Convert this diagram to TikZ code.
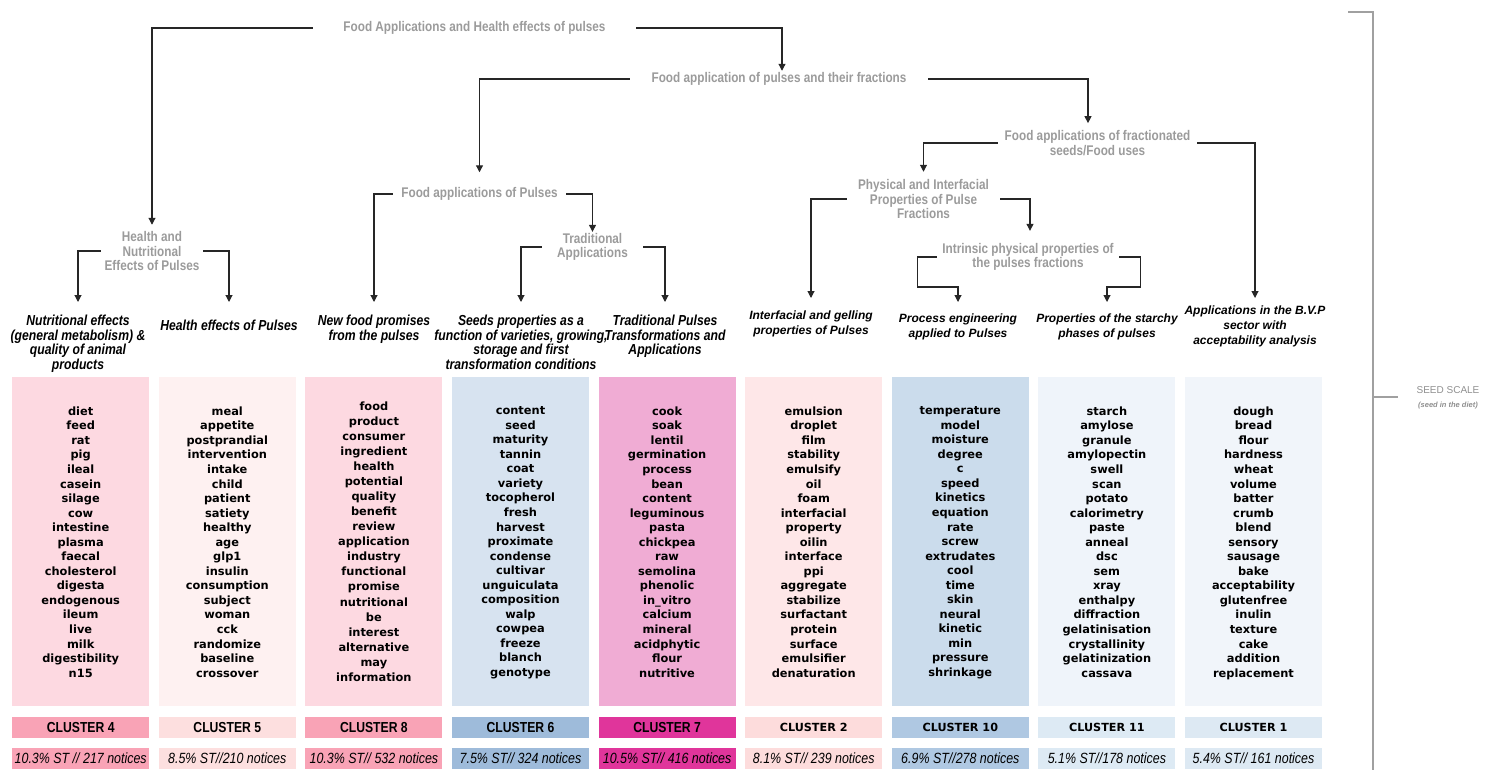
\documentclass[tikz,border=0pt]{standalone}
\usepackage{fontspec}
\setmainfont{Liberation Sans}
\newfontfamily\narrowfont[FakeStretch=0.84]{Liberation Sans}
\newfontfamily\wordfont{DejaVu Sans}
\usetikzlibrary{arrows.meta}
\definecolor{headgray}{HTML}{9B9B9B}
\definecolor{seedgray}{HTML}{8F8F8F}
\definecolor{scalegray}{HTML}{A0A0A0}
\definecolor{boxfour}{HTML}{FDD9E1}
\definecolor{labfour}{HTML}{F9A3B6}
\definecolor{boxfive}{HTML}{FEF1F1}
\definecolor{labfive}{HTML}{FDDFDF}
\definecolor{boxeight}{HTML}{FDD9E1}
\definecolor{labeight}{HTML}{F9A3B6}
\definecolor{boxsix}{HTML}{D7E3F0}
\definecolor{labsix}{HTML}{9EBBDA}
\definecolor{boxseven}{HTML}{F0ACD4}
\definecolor{labseven}{HTML}{E0359B}
\definecolor{boxtwo}{HTML}{FEE7E8}
\definecolor{labtwo}{HTML}{FDDCDC}
\definecolor{boxten}{HTML}{CBDCEC}
\definecolor{labten}{HTML}{AFC8E2}
\definecolor{boxeleven}{HTML}{EFF4FA}
\definecolor{labeleven}{HTML}{DDEAF4}
\definecolor{boxone}{HTML}{F1F5FA}
\definecolor{labone}{HTML}{DDE9F3}
\tikzset{
 conn/.style={draw=black!85, line width=1.1pt, -{Triangle[width=7pt,length=7pt]}},
 head/.style={font=\narrowfont\bfseries\fontsize{14}{14.5}\selectfont, text=headgray, align=center, inner xsep=0pt},
 subn/.style={font=\narrowfont\bfseries\itshape\fontsize{14.5}{14.7}\selectfont, align=center, anchor=north, inner xsep=0pt},
 subw/.style={font=\bfseries\itshape\fontsize{12}{15}\selectfont, align=center, anchor=north, inner xsep=0pt},
 colbox/.style={draw=none, anchor=north west, minimum width=137pt, minimum height=329pt, inner sep=0pt},
 words/.style={font=\wordfont\bfseries\fontsize{11.4}{14.55}\selectfont, align=center, text=black, anchor=north, inner sep=0pt},
 labbox/.style={anchor=north west, minimum width=137pt, minimum height=21pt, inner sep=0pt, font=\narrowfont\bfseries\fontsize{14.5}{15}\selectfont},
 labboxw/.style={labbox, font=\wordfont\bfseries\fontsize{11.2}{13}\selectfont},
 statbox/.style={anchor=north west, minimum width=137pt, minimum height=21pt, inner sep=0pt, font=\narrowfont\itshape\fontsize{14.8}{15}\selectfont},
 scaleline/.style={draw=scalegray, line width=2.2pt},
}
\newcommand{\ccol}[9]{%
 \node[colbox, fill=#3] (box#1) at (#2,377) {};
 \node[words, #8] (w#1) at ([yshift=-29.4pt]box#1.north) {#9};
 \node[#5, fill=#4] (lab#1) at (#2,717) {#6};
 \node[statbox, fill=#4] (stat#1) at (#2,748) {#7};
}
\begin{document}
\begin{tikzpicture}[x=1pt, y=-1pt]
\useasboundingbox (0,0) rectangle (1491,770);

% headings
\node[head, minimum width=323pt, inner ysep=0pt] (h1) at (474.5,28) {Food Applications and Health effects of pulses};
\node[head, minimum width=298pt, inner ysep=1.5pt] (h2) at (779,79) {Food application of pulses and their fractions};
\node[head, minimum width=199pt, inner ysep=7.2pt] (h3) at (1097.5,143) {Food applications of fractionated\\seeds/Food uses};
\node[head, minimum width=153pt, inner ysep=7.4pt] (h4) at (923.5,199) {Physical and Interfacial\\Properties of Pulse\\Fractions};
\node[head, minimum width=182pt, inner ysep=12.2pt] (h5) at (1028,257) {Intrinsic physical properties of\\the pulses fractions};
\node[head, minimum width=173pt, inner ysep=15pt] (h6) at (479.5,194) {Food applications of Pulses};
\node[head, minimum width=101pt, inner ysep=1.2pt] (h7) at (592.5,247) {Traditional\\Applications};
\node[head, minimum width=102pt, inner ysep=6.4pt] (h8) at (152,251) {Health and\\Nutritional\\Effects of Pulses};

% subheadings
\node[subn, inner ysep=12.6pt] (sub1) at (78,302) {Nutritional effects\\(general metabolism) \&\\quality of animal\\products};
\node[subn, inner ysep=17.6pt] (sub2) at (229,302) {Health effects of Pulses};
\node[subn, inner ysep=12.6pt] (sub3) at (374,302) {New food promises\\from the pulses};
\node[subn, inner ysep=12.6pt] (sub4) at (521,302) {Seeds properties as a\\function of varieties, growing,\\storage and first\\transformation conditions};
\node[subn, inner ysep=12.6pt] (sub5) at (665,302) {Traditional Pulses\\Transformations and\\Applications};
\node[subw, inner ysep=12.5pt] (sub6) at (811,298) {Interfacial and gelling\\properties of Pulses};
\node[subw, inner ysep=11.5pt] (sub7) at (958,302) {Process engineering\\applied to Pulses};
\node[subw, inner ysep=11.5pt] (sub8) at (1107,302) {Properties of the starchy\\phases of pulses};
\node[subw, inner ysep=7.5pt] (sub9) at (1255,298) {Applications in the B.V.P\\sector with\\acceptability analysis};

% connectors
\draw[conn] (h1.west) -| (h8.north);
\draw[conn] (h1.east) -| ([xshift=3pt]h2.north);
\draw[conn] (h2.west) -| (h6.north);
\draw[conn] (h2.east) -| ([xshift=-9.5pt]h3.north);
\draw[conn] (h3.west) -| (h4.north);
\draw[conn] (h3.east) -| (sub9.north);
\draw[conn] (h4.west) -| (sub6.north);
\draw[conn] (h4.east) -| ([xshift=2pt]h5.north);
\draw[conn] (h5.west) -- ++(-19,0) |- ([yshift=15pt]sub7.north) -- (sub7.north);
\draw[conn] (h5.east) -- ++(21,0) |- ([yshift=15pt]sub8.north) -- (sub8.north);
\draw[conn] (h6.west) -| (sub3.north);
\draw[conn] (h6.east) -| (h7.north);
\draw[conn] (h7.west) -| (sub4.north);
\draw[conn] (h7.east) -| (sub5.north);
\draw[conn] (h8.west) -| (sub1.north);
\draw[conn] (h8.east) -| (sub2.north);

% cluster columns
\ccol{4}{12}{boxfour}{labfour}{labbox}{CLUSTER 4}{10.3\% ST // 217 notices}{}{diet\\feed\\rat\\pig\\ileal\\casein\\silage\\cow\\intestine\\plasma\\faecal\\cholesterol\\digesta\\endogenous\\ileum\\live\\milk\\digestibility\\n15}
\ccol{5}{158.6}{boxfive}{labfive}{labbox}{CLUSTER 5}{8.5\% ST//210 notices}{}{meal\\appetite\\postprandial\\intervention\\intake\\child\\patient\\satiety\\healthy\\age\\glp1\\insulin\\consumption\\subject\\woman\\cck\\randomize\\baseline\\crossover}
\ccol{8}{305.2}{boxeight}{labeight}{labbox}{CLUSTER 8}{10.3\% ST// 532 notices}{font=\wordfont\bfseries\fontsize{11.4}{15.06}\selectfont, yshift=5pt}{food\\product\\consumer\\ingredient\\health\\potential\\quality\\benefit\\review\\application\\industry\\functional\\promise\\nutritional\\be\\interest\\alternative\\may\\information}
\ccol{6}{451.8}{boxsix}{labsix}{labbox}{CLUSTER 6}{7.5\% ST// 324 notices}{}{content\\seed\\maturity\\tannin\\coat\\variety\\tocopherol\\fresh\\harvest\\proximate\\condense\\cultivar\\unguiculata\\composition\\walp\\cowpea\\freeze\\blanch\\genotype}
\ccol{7}{598.4}{boxseven}{labseven}{labbox}{CLUSTER 7}{10.5\% ST// 416 notices}{}{cook\\soak\\lentil\\germination\\process\\bean\\content\\leguminous\\pasta\\chickpea\\raw\\semolina\\phenolic\\in\_vitro\\calcium\\mineral\\acidphytic\\flour\\nutritive}
\ccol{2}{745}{boxtwo}{labtwo}{labboxw}{CLUSTER 2}{8.1\% ST// 239 notices}{}{emulsion\\droplet\\film\\stability\\emulsify\\oil\\foam\\interfacial\\property\\oilin\\interface\\ppi\\aggregate\\stabilize\\surfactant\\protein\\surface\\emulsifier\\denaturation}
\ccol{10}{891.6}{boxten}{labten}{labboxw}{CLUSTER 10}{6.9\% ST//278 notices}{}{temperature\\model\\moisture\\degree\\c\\speed\\kinetics\\equation\\rate\\screw\\extrudates\\cool\\time\\skin\\neural\\kinetic\\min\\pressure\\shrinkage}
\ccol{11}{1038.2}{boxeleven}{labeleven}{labboxw}{CLUSTER 11}{5.1\% ST//178 notices}{}{starch\\amylose\\granule\\amylopectin\\swell\\scan\\potato\\calorimetry\\paste\\anneal\\dsc\\sem\\xray\\enthalpy\\diffraction\\gelatinisation\\crystallinity\\gelatinization\\cassava}
\ccol{1}{1184.8}{boxone}{labone}{labboxw}{CLUSTER 1}{5.4\% ST// 161 notices}{}{dough\\bread\\flour\\hardness\\wheat\\volume\\batter\\crumb\\blend\\sensory\\sausage\\bake\\acceptability\\glutenfree\\inulin\\texture\\cake\\addition\\replacement}

% seed scale
\coordinate (scTopEnd) at (1348,12);
\coordinate (scTop) at (1373,12);
\coordinate (scBot) at (1373,770);
\coordinate (scMid) at (1373,397);
\coordinate (scMidEnd) at (1398,397);
\draw[scaleline] (scTopEnd) -- (scTop) -- (scBot);
\draw[scaleline] (scMid) -- (scMidEnd);
\node[font=\fontsize{10}{12}\selectfont, text=seedgray, inner sep=0pt] (seed) at (1448,390) {SEED SCALE};
\node[font=\bfseries\itshape\fontsize{7.5}{9}\selectfont, text=seedgray, inner sep=0pt] (seedsub) at (1448,406) {(seed in the diet)};
\end{tikzpicture}
\end{document}
